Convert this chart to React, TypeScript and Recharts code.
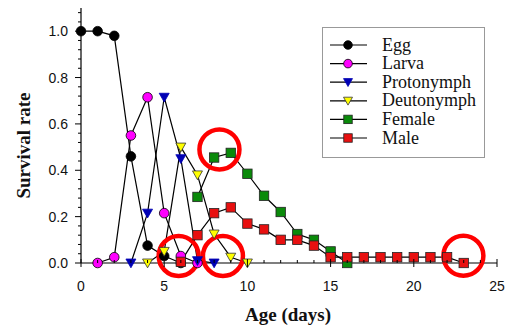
import React from 'react';
import { LineChart, Line, XAxis, YAxis, ReferenceDot, Legend, Label } from 'recharts';

// ---- data ----
const eggDays = [0, 1, 2, 3, 4, 5, 6];
const eggRate = [1.0, 1.0, 0.98, 0.46, 0.075, 0.03, 0.0];
const larvaDays = [1, 2, 3, 4, 5, 6, 7];
const larvaRate = [0.0, 0.025, 0.55, 0.715, 0.215, 0.03, 0.0];
const protoDays = [3, 4, 5, 6, 7, 8];
const protoRate = [0.0, 0.215, 0.715, 0.45, 0.01, 0.0];
const deutoDays = [4, 5, 6, 7, 8, 9, 10];
const deutoRate = [0.0, 0.05, 0.5, 0.38, 0.125, 0.025, 0.0];
const femaleDays = [7, 8, 9, 10, 11, 12, 13, 14, 15, 16];
const femaleRate = [0.285, 0.455, 0.475, 0.385, 0.29, 0.22, 0.125, 0.1, 0.05, 0.0];
const maleDays = [6, 7, 8, 9, 10, 11, 12, 13, 14, 15, 16, 17, 18, 19, 20, 21, 22, 23];
const maleRate = [0.005, 0.12, 0.215, 0.24, 0.17, 0.145, 0.1, 0.1, 0.075, 0.025, 0.025, 0.025, 0.025, 0.025, 0.025, 0.025, 0.025, 0.0];

const xMajorTicks = [0, 5, 10, 15, 20, 25];
const xMinorTicks = [1, 2, 3, 4, 6, 7, 8, 9, 11, 12, 13, 14, 16, 17, 18, 19, 21, 22, 23, 24];
const yMajorTicks = [0, 0.2, 0.4, 0.6, 0.8, 1.0];
const yMinorTicks = [0.04, 0.08, 0.12, 0.16, 0.24, 0.28, 0.32, 0.36, 0.44, 0.48, 0.52, 0.56, 0.64, 0.68, 0.72, 0.76, 0.84, 0.88, 0.92, 0.96, 1.04, 1.08];
const yTickLabels = ['0.0', '0.2', '0.4', '0.6', '0.8', '1.0'];

// highlighted spots (red circles) in data units
const highlightX = [8.32, 5.87, 8.53, 22.98];
const highlightY = [0.49, 0.03, 0.03, 0.031];

const toPoints = (days: number[], rate: number[]) => days.map((d, i) => ({ x: d, y: rate[i] }));

type Shape = 'circle' | 'tri' | 'square';
const series: { name: string; data: { x: number; y: number }[]; shape: Shape; fill: string }[] = [
  { name: 'Egg', data: toPoints(eggDays, eggRate), shape: 'circle', fill: '#000000' },
  { name: 'Larva', data: toPoints(larvaDays, larvaRate), shape: 'circle', fill: '#ff00ff' },
  { name: 'Protonymph', data: toPoints(protoDays, protoRate), shape: 'tri', fill: '#0000b4' },
  { name: 'Deutonymph', data: toPoints(deutoDays, deutoRate), shape: 'tri', fill: '#ffff00' },
  { name: 'Female', data: toPoints(femaleDays, femaleRate), shape: 'square', fill: '#0a8a0a' },
  { name: 'Male', data: toPoints(maleDays, maleRate), shape: 'square', fill: '#e81010' },
];

const drawMarker = (shape: Shape, fill: string, cx: number, cy: number, key?: string, scale = 1) => {
  if (shape === 'circle') {
    return <circle key={key} cx={cx} cy={cy} r={4.8 * scale} fill={fill} stroke="#000" strokeWidth={0.8} />;
  }
  if (shape === 'tri') {
    const w = 5 * scale;
    const pts = `${cx - w},${cy - 4 * scale} ${cx + w},${cy - 4 * scale} ${cx},${cy + 4.8 * scale}`;
    return <polygon key={key} points={pts} fill={fill} stroke={fill === '#ffff00' ? '#333' : fill} strokeWidth={0.8} />;
  }
  const h = 4.7 * scale;
  return <rect key={key} x={cx - h} y={cy - h} width={2 * h} height={2 * h} fill={fill} stroke="#222" strokeWidth={0.8} />;
};

const sansFont = '"Liberation Sans", Arial, sans-serif';
const serifFont = '"Liberation Serif", "Times New Roman", serif';

const XTick = (props: any) => {
  const { x, y, payload } = props;
  const v = payload.value;
  const majorIdx = xMajorTicks.indexOf(v);
  const major = majorIdx >= 0;
  return (
    <g>
      <line x1={x} x2={x} y1={major ? y - 4 : y - 3} y2={major ? y + 4 : y} stroke="#000" strokeWidth={1} />
      {major && (
        <text x={x} y={y + 28} textAnchor="middle" fontFamily={sansFont} fontSize={14} fill="#111">
          {String(v)}
        </text>
      )}
    </g>
  );
};

const YTick = (props: any) => {
  const { x, y, payload } = props;
  const v = payload.value;
  const majorIdx = yMajorTicks.findIndex((m) => Math.abs(m - v) < 1e-9);
  const major = majorIdx >= 0;
  return (
    <g>
      <line x1={x - (major ? 6 : 3)} x2={x} y1={y} y2={y} stroke="#000" strokeWidth={1} />
      {major && (
        <text x={x - 13} y={y + 5} textAnchor="end" fontFamily={sansFont} fontSize={14} fill="#111">
          {yTickLabels[majorIdx]}
        </text>
      )}
    </g>
  );
};

const LegendBox = () => (
  <svg width={163} height={131} style={{ display: 'block' }}>
    <rect x={0.5} y={0.5} width={162} height={130} fill="#fff" stroke="#999" strokeWidth={1} />
    {series.map((s, i) => {
      const cy = 18 + i * 18.6;
      return (
        <g key={s.name}>
          <line x1={8} x2={45} y1={cy} y2={cy} stroke="#000" strokeWidth={1.2} />
          {drawMarker(s.shape, s.fill, 26, cy, undefined, 0.9)}
          <text x={60} y={cy + 5.5} fontFamily={serifFont} fontSize={18} fill="#111">
            {s.name}
          </text>
        </g>
      );
    })}
  </svg>
);

export default function App() {
  return (
    <div style={{ position: 'absolute', left: 0, top: 0, background: '#fff' }}>
      <LineChart width={511} height={329} margin={{ top: 8, right: 14, bottom: 0, left: 0 }}>
        <XAxis
          dataKey="x"
          type="number"
          domain={[0, 25]}
          ticks={[...xMajorTicks, ...xMinorTicks].sort((a, b) => a - b)}
          interval={0}
          tick={<XTick />}
          tickLine={false}
          tickSize={0}
          tickMargin={0}
          height={66}
          axisLine={{ stroke: '#000', strokeWidth: 1.2 }}
        >
          <Label
            content={(p: any) => {
              const vb = p.viewBox || { x: 81, y: 263, width: 416 };
              return (
                <text x={vb.x + vb.width / 2 - 1} y={vb.y + 58} textAnchor="middle" fontFamily={serifFont} fontWeight="bold" fontSize={19} fill="#111">
                  Age (days)
                </text>
              );
            }}
          />
        </XAxis>
        <XAxis xAxisId="top" orientation="top" type="number" domain={[0, 25]} tick={false} tickLine={false} height={0} axisLine={{ stroke: '#000', strokeWidth: 1.2 }} />
        <YAxis
          type="number"
          domain={[0, 1.1]}
          ticks={[...yMajorTicks, ...yMinorTicks].sort((a, b) => a - b)}
          interval={0}
          tick={<YTick />}
          tickLine={false}
          tickSize={0}
          tickMargin={0}
          width={81}
          axisLine={{ stroke: '#000', strokeWidth: 1.2 }}
        >
          <Label
            content={(p: any) => {
              const vb = p.viewBox || { x: 0, y: 8, height: 255 };
              const cy = vb.y + vb.height / 2 + 10;
              return (
                <text x={30} y={cy} transform={`rotate(-90 30 ${cy})`} textAnchor="middle" fontFamily={serifFont} fontWeight="bold" fontSize={19} fill="#111">
                  Survival rate
                </text>
              );
            }}
          />
        </YAxis>
        <YAxis yAxisId="right" orientation="right" type="number" domain={[0, 1.1]} tick={false} tickLine={false} width={0} axisLine={{ stroke: '#000', strokeWidth: 1.2 }} />
        {series.map((s) => (
          <Line
            key={s.name}
            name={s.name}
            data={s.data}
            dataKey="y"
            stroke="#000"
            strokeWidth={1.2}
            isAnimationActive={false}
            activeDot={false}
            dot={(p: any) => drawMarker(s.shape, s.fill, p.cx, p.cy, `${s.name}-${p.index}`)}
          />
        ))}
        {highlightX.map((hx, i) => (
          <ReferenceDot key={`hl-${i}`} x={hx} y={highlightY[i]} r={20} fill="none" stroke="#ff0000" strokeWidth={4.5} ifOverflow="visible" />
        ))}
        <Legend
          layout="vertical"
          align="center"
          verticalAlign="middle"
          content={() => <LegendBox />}
          wrapperStyle={{ position: 'absolute', left: 322, top: 27, width: 163, height: 131 }}
        />
      </LineChart>
    </div>
  );
}
